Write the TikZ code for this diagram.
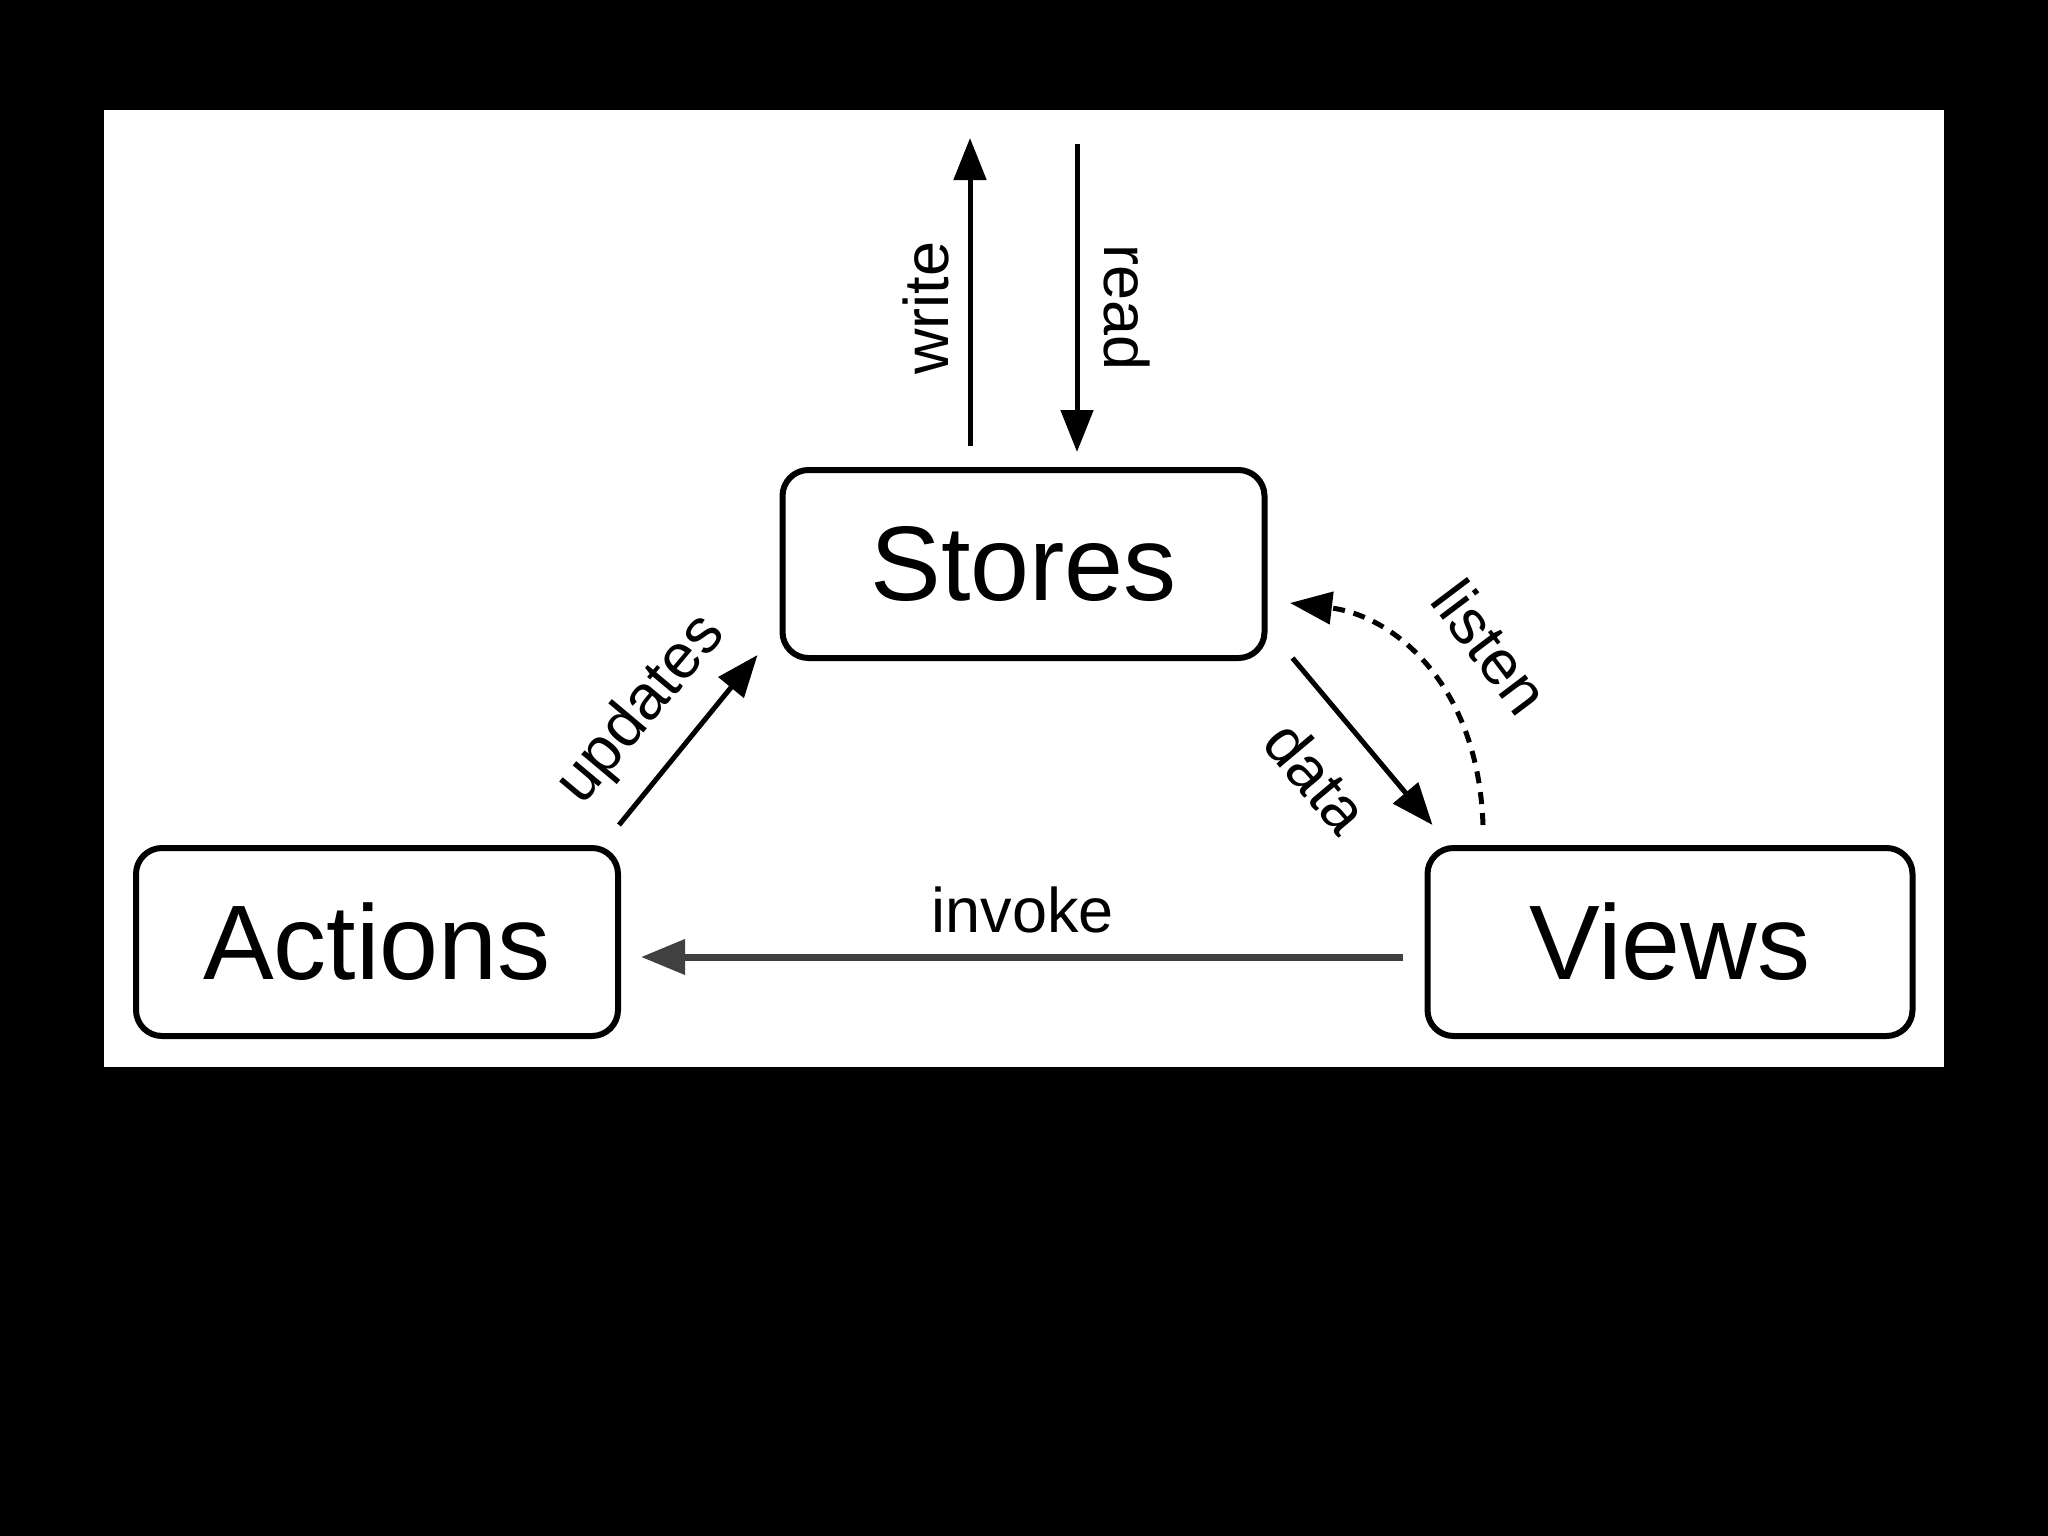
\documentclass[tikz,border=0pt]{standalone}
\usepackage{fontspec}
\setmainfont{Liberation Sans}
\usetikzlibrary{arrows.meta}
\begin{document}
\begin{tikzpicture}[x=1pt,y=-1pt,
  box/.style={draw=black, line width=6pt, rounded corners=26pt, fill=white,
    minimum width=482pt, minimum height=188pt, inner sep=0pt,
    font=\fontsize{106}{120}\selectfont},
  arr/.style={line width=5pt, -{Triangle[length=42pt,width=32pt]}},
  lbl/.style={inner sep=0pt, font=\fontsize{63}{70}\selectfont}]
\useasboundingbox (0,0) rectangle (2048,1536);
\fill[black] (0,0) rectangle (2048,1536);
\fill[white] (104,110) rectangle (1944,1067);
% boxes
\node[box] (stores) at (1023.5,564) {Stores};
\node[box] (actions) at (377,942) {Actions};
\node[box, minimum width=485pt] (views) at (1670,942) {Views};
% write / read
\coordinate (wtop) at (970,138);
\coordinate (rtop) at (1077,144);
\draw[arr] ([yshift=21pt]stores.north -| wtop) -- (wtop);
\draw[arr] (rtop) -- ([yshift=15pt]stores.north -| rtop);
\node[lbl, rotate=90] (lwrite) at (926,308) {write};
\node[lbl, rotate=-90] (lread) at (1127,308) {read};
% updates
\draw[arr] ([shift={(-2,-20)}]actions.north east) -- ([shift={(-22,-6)}]stores.south west);
\node[lbl, rotate=50] (lupd) at (642,710) {updates};
% data
\draw[arr] ([shift={(25,-3)}]stores.south east) -- ([shift={(8,-20)}]views.north west);
\node[lbl, rotate=-50] (ldata) at (1317,777) {data};
% listen
\coordinate (lstart) at (1483,825);
\coordinate (lend) at (1290,603);
\draw[arr, dash pattern=on 12pt off 9pt] (lstart) .. controls (1478,680) and (1390,615) .. (lend);
\node[lbl, rotate=-53] (llisten) at (1491,647) {listen};
% invoke
\draw[line width=7pt, black!75, -{Triangle[length=44pt,width=34pt]}]
  ([shift={(-22,15)}]views.west) -- ([shift={(20,15)}]actions.east);
\node[lbl] (linvoke) at (1023,910) {invoke};
\end{tikzpicture}
\end{document}
